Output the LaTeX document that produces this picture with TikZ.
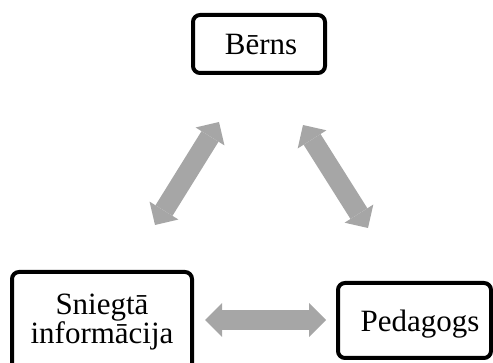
\documentclass[tikz,border=0pt]{standalone}
\usepackage{fontspec}
\setmainfont{Liberation Serif}
\usetikzlibrary{arrows.meta}
\definecolor{arrgray}{HTML}{A6A6A6}
\tikzset{
  box/.style={draw=black, line width=4pt, rounded corners=7pt, fill=white, inner sep=0pt},
  txt/.style={font=\fontsize{31}{26}\selectfont, inner sep=0pt, align=center},
  dblarrow/.style={draw=arrgray, line width=20pt,
    {Triangle[length=17pt,width=34pt,line width=0pt]}-{Triangle[length=17pt,width=34pt,line width=0pt]}},
}
\begin{document}
\begin{tikzpicture}[x=1pt,y=-1pt]
\useasboundingbox (0,0) rectangle (493,363);
\clip (0,0) rectangle (493,363);
% boxes
\node[box, minimum width=132pt, minimum height=58pt] (berns) at (259,44) {};
\node[txt, anchor=base] (bernsT) at (261,55) {Bērns};
\node[box, minimum width=153pt, minimum height=75pt] (ped) at (414.5,320.5) {};
\node[txt, anchor=base] (pedT) at (420,332) {Pedagogs};
\node[box, minimum width=180pt, minimum height=104pt] (sni) at (102,324) {};
\node[txt, anchor=base] (sniT) at (102,344) {Sniegtā\\informācija};
% arrow ends
\coordinate (l1) at (155,225);
\coordinate (l2) at (219,122);
\coordinate (r1) at (303,125);
\coordinate (r2) at (368,228);
\coordinate (h1) at (205,320);
\coordinate (h2) at (326,320);
\draw[dblarrow] (l1) -- (l2);
\draw[dblarrow] (r1) -- (r2);
\draw[dblarrow] (h1) -- (h2);
\end{tikzpicture}
\end{document}
